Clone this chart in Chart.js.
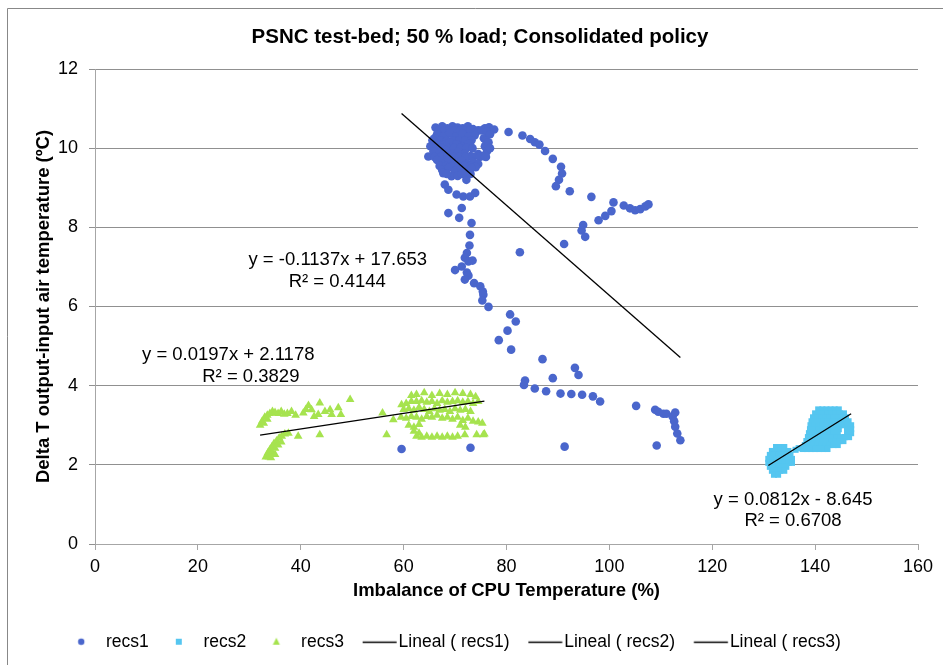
<!DOCTYPE html>
<html>
<head>
<meta charset="utf-8">
<script src="https://cdn.jsdelivr.net/npm/chart.js@4.4.0/dist/chart.umd.min.js"></script>
<style>
  html, body { margin: 0; padding: 0; background: #fff; }
</style>
</head>
<body>
<canvas id="myChart" width="943" height="665"></canvas>
<script>
// recs1: [imbalance %, delta T]
const recs1 = [
  [66.2,10.52],[67.5,10.55],[68.5,10.50],[69.5,10.55],[70.5,10.52],[71.5,10.50],[72.5,10.55],[73.5,10.48],[74.5,10.45],[75.8,10.50],[76.6,10.53],[77.6,10.47],
  [66.9,10.45],[68.0,10.45],[69.0,10.45],[70.0,10.45],[71.0,10.45],[72.0,10.45],[73.0,10.45],[74.0,10.40],[75.2,10.45],[76.2,10.42],
  [66.5,10.35],[67.8,10.30],[69.0,10.38],[70.2,10.30],[71.4,10.36],[72.6,10.28],[73.8,10.32],[75.6,10.25],[66.0,10.25],[76.8,10.35],
  [65.6,10.20],[67.2,10.20],[68.4,10.20],[69.6,10.20],[70.8,10.20],[72.0,10.20],[73.2,10.20],[76.0,10.20],
  [65.2,10.05],[66.6,10.12],[67.8,10.08],[69.0,10.15],[70.3,10.10],[71.5,10.05],[72.7,10.12],[75.8,10.05],[76.5,10.15],[76.2,9.92],
  [66.1,10.00],[67.4,10.00],[68.6,10.00],[69.8,10.00],[71.0,10.00],[72.2,10.00],[73.4,10.00],[76.8,10.00],
  [64.8,9.79],[65.8,9.92],[67.0,9.88],[68.2,9.95],[69.4,9.85],[70.6,9.90],[71.8,9.85],[73.0,9.80],[74.5,9.85],[75.5,9.80],
  [66.0,9.78],[67.3,9.78],[68.5,9.78],[69.7,9.78],[70.9,9.78],[72.1,9.78],[73.5,9.78],[74.8,9.78],[76.0,9.78],
  [66.5,9.70],[67.6,9.62],[68.8,9.70],[70.0,9.60],[71.2,9.68],[72.4,9.60],[73.5,9.65],[74.5,9.60],
  [67.0,9.55],[68.2,9.55],[69.4,9.55],[70.6,9.55],[71.8,9.55],[73.0,9.55],[74.0,9.52],
  [67.5,9.45],[68.7,9.50],[70.0,9.42],[71.2,9.48],[72.3,9.40],[73.2,9.50],
  [67.7,9.37],[69.3,9.29],[70.5,9.30],[72.2,9.20],[68.4,9.35],[71.3,9.35],[73.0,9.35],
  [80.4,10.41],[83.1,10.32],[84.6,10.23],[85.5,10.15],[86.4,10.09],[87.5,9.93],[89.0,9.73],[90.6,9.53],[90.8,9.36],[90.2,9.20],
  [89.6,9.04],[92.3,8.91],[96.5,8.77],[100.8,8.63],[102.8,8.55],[104.0,8.48],[105.0,8.43],[106.0,8.46],[107.0,8.53],[107.6,8.58],
  [100.4,8.41],[99.2,8.29],[97.9,8.18],[94.9,8.06],[94.6,7.92],[95.3,7.76],[91.2,7.58],[82.6,7.37],
  [68.0,9.08],[68.7,8.95],[70.3,8.83],[71.6,8.78],[72.9,8.78],[73.9,8.87],[71.3,8.49],[68.7,8.36],[70.8,8.24],[73.2,8.11],
  [72.9,7.81],[72.8,7.54],[72.3,7.35],[71.9,7.23],[72.6,7.14],[73.4,7.16],[71.3,7.01],[70.0,6.92],[72.3,6.86],[72.6,6.78],
  [71.9,6.68],[73.7,6.59],[74.9,6.51],[75.4,6.38],[75.5,6.30],[75.3,6.15],[76.5,5.99],
  [80.7,5.80],[81.8,5.62],[80.2,5.39],[78.5,5.15],[80.9,4.91],[87.0,4.67],[93.3,4.45],[94.0,4.27],[89.0,4.19],[83.6,4.13],
  [83.4,4.02],[85.5,3.93],[87.7,3.86],[90.5,3.80],[92.6,3.79],[94.7,3.77],[96.8,3.73],[98.2,3.60],[105.2,3.49],[108.9,3.39],
  [109.5,3.34],[110.5,3.29],[111.1,3.29],[112.3,3.22],[112.8,3.32],[112.6,3.10],[112.8,2.96],[113.2,2.79],[113.8,2.62],
  [109.2,2.49],[91.3,2.46],[73.0,2.43],[59.6,2.40]
];

const recs2 = [
  [132.4,2.45],[133.2,2.45],[134.0,2.45],
  [131.6,2.35],[132.4,2.35],[133.2,2.35],[134.0,2.35],[134.8,2.35],
  [131.2,2.25],[132.0,2.25],[132.8,2.25],[133.6,2.25],[134.4,2.25],[135.2,2.25],
  [130.9,2.15],[131.7,2.15],[132.5,2.15],[133.3,2.15],[134.1,2.15],[134.9,2.15],[135.5,2.15],
  [130.9,2.05],[131.7,2.05],[132.5,2.05],[133.3,2.05],[134.1,2.05],[134.9,2.05],[135.5,2.05],
  [131.2,1.95],[132.0,1.95],[132.8,1.95],[133.6,1.95],[134.4,1.95],
  [131.6,1.85],[132.4,1.85],[133.2,1.85],[134.0,1.85],
  [132.0,1.75],[132.8,1.75],
  [136.2,2.38],[136.8,2.42],
  [140.6,3.40],[141.4,3.40],[142.2,3.40],[143.0,3.40],[143.8,3.40],[144.6,3.40],
  [140.0,3.30],[140.8,3.30],[141.6,3.30],[142.4,3.30],[143.2,3.30],[144.0,3.30],[144.8,3.30],[145.6,3.30],
  [139.6,3.20],[140.4,3.20],[141.2,3.20],[142.0,3.20],[142.8,3.20],[143.6,3.20],[144.4,3.20],[145.2,3.20],[146.0,3.20],
  [139.3,3.10],[140.1,3.10],[140.9,3.10],[141.7,3.10],[142.5,3.10],[143.3,3.10],[144.1,3.10],[144.9,3.10],[145.7,3.10],[146.5,3.10],
  [139.1,3.00],[139.9,3.00],[140.7,3.00],[141.5,3.00],[142.3,3.00],[143.1,3.00],[143.9,3.00],[144.7,3.00],[145.5,3.00],[146.3,3.00],[147.0,3.00],
  [139.0,2.90],[139.8,2.90],[140.6,2.90],[141.4,2.90],[142.2,2.90],[143.0,2.90],[143.8,2.90],[144.6,2.90],[146.2,2.90],[147.0,2.90],
  [138.8,2.80],[139.6,2.80],[140.4,2.80],[141.2,2.80],[142.0,2.80],[142.8,2.80],[143.6,2.80],[144.4,2.80],[146.2,2.80],[147.0,2.80],
  [138.6,2.70],[139.4,2.70],[140.2,2.70],[141.0,2.70],[141.8,2.70],[142.6,2.70],[143.4,2.70],[144.2,2.70],[145.0,2.70],[145.8,2.70],[146.6,2.70],
  [138.3,2.60],[139.1,2.60],[139.9,2.60],[140.7,2.60],[141.5,2.60],[142.3,2.60],[143.1,2.60],[143.9,2.60],[144.7,2.60],[145.5,2.60],
  [138.0,2.50],[138.8,2.50],[139.6,2.50],[140.4,2.50],[141.2,2.50],[142.0,2.50],[142.8,2.50],[143.6,2.50],[144.4,2.50],
  [137.6,2.40],[138.4,2.40],[139.2,2.40],[140.0,2.40],[140.8,2.40],[141.6,2.40],[142.4,2.40]
];

const recs3 = [
  [33.2,2.20],[33.6,2.30],[34.0,2.38],[34.4,2.46],[34.8,2.54],[35.3,2.60],[35.8,2.68],[36.3,2.72],[36.9,2.78],[37.6,2.80],
  [33.8,2.20],[34.5,2.30],[35.0,2.42],[35.6,2.50],[36.2,2.58],[34.2,2.18],[35.0,2.26],
  [32.1,3.00],[32.5,3.10],[33.0,3.20],[33.5,3.25],[34.0,3.30],[34.5,3.35],[35.0,3.32],[35.6,3.30],[36.2,3.35],[36.8,3.28],
  [37.4,3.30],[38.2,3.35],[32.8,3.05],[33.5,3.15],
  [39.5,2.72],[40.5,3.31],[41.0,3.40],[42.1,3.39],[43.4,3.27],[43.7,3.56],[43.7,2.76],[44.7,3.35],[45.7,3.39],[46.0,3.27],
  [47.3,3.44],[47.8,3.27],[49.6,3.65],[39.0,3.25],[41.5,3.50],[42.6,3.22],
  [55.9,3.31],[56.7,2.76],[58.0,3.14],[59.6,3.52],[61.5,3.75],
  [62.5,3.78],[64.0,3.82],[65.5,3.75],[67.0,3.80],[68.5,3.78],[70.0,3.82],[71.5,3.80],[73.0,3.78],[74.0,3.72],
  [60.5,3.55],[61.5,3.60],[62.5,3.60],[63.5,3.62],[64.5,3.58],[65.5,3.60],[66.5,3.55],[67.5,3.62],[68.5,3.58],[69.5,3.60],
  [70.5,3.62],[71.5,3.58],[72.5,3.60],[73.5,3.55],[74.5,3.60],
  [60.0,3.40],[61.0,3.42],[62.0,3.38],[63.0,3.45],[64.0,3.40],[65.0,3.35],[66.0,3.42],[67.0,3.38],[68.0,3.40],[69.0,3.35],
  [70.0,3.42],[71.0,3.38],[72.0,3.40],[73.0,3.35],
  [59.5,3.20],[60.5,3.18],[61.5,3.22],[62.5,3.20],[63.5,3.15],[64.5,3.22],[65.5,3.20],[66.5,3.25],[67.5,3.18],[68.5,3.20],
  [69.5,3.15],[70.5,3.20],[71.5,3.12],[72.5,3.18],[73.5,3.10],[74.5,3.08],[75.3,3.05],
  [61.0,3.00],[62.0,2.95],[63.0,3.02],[71.0,3.00],[72.0,2.95],[62.0,2.85],[63.0,2.80],
  [62.5,2.72],[63.5,2.70],[64.5,2.72],[65.5,2.70],[66.5,2.72],[67.5,2.70],[68.5,2.72],[69.5,2.70],[70.5,2.72],[71.9,2.76],
  [74.2,2.76],[75.5,2.76],[75.7,2.78]
];

// linear trendlines (as printed on the chart)
const trendSlope = [-0.1137, 0.0812, 0.0197];
const trendIntercept = [17.653, -8.645, 2.1178];
const trendText = ['y = -0.1137x + 17.653', 'y = 0.0812x - 8.645', 'y = 0.0197x + 2.1178'];
const r2Text = ['R² = 0.4144', 'R² = 0.6708', 'R² = 0.3829'];

const xTicks = [0, 20, 40, 60, 80, 100, 120, 140, 160];
const yTicks = [0, 2, 4, 6, 8, 10, 12];

// where the equation labels sit, in axis units
const eqPos = [
  [[47.2, 7.18], [47.1, 6.63]],
  [[135.7, 1.12], [135.7, 0.59]],
  [[25.9, 4.78], [30.3, 4.23]]
];

const blue = '#4a66cc';
const cyan = '#55c6f0';
const green = '#a6e34f';
const FONT = '"Liberation Sans", Arial, sans-serif';
Chart.defaults.font.family = FONT;
Chart.defaults.color = '#000';

function toPts(arr) {
  return arr.map(p => ({x: p[0], y: p[1]}));
}

function trendPts(i, arr) {
  const xs = arr.map(p => p[0]);
  const lo = Math.min(...xs), hi = Math.max(...xs);
  return [lo, hi].map(x => ({x: x, y: trendSlope[i] * x + trendIntercept[i]}));
}

// legend markers drawn into small canvases (box is 20px wide)
function marker(kind, color) {
  const c = document.createElement('canvas');
  c.width = kind === 'line' ? 36 : 20;
  c.height = 16;
  const g = c.getContext('2d');
  g.fillStyle = color;
  g.strokeStyle = color;
  if (kind === 'circle') {
    g.beginPath(); g.arc(4, 8, 3.2, 0, Math.PI * 2); g.fill();
  } else if (kind === 'rect') {
    g.fillRect(1, 5, 6, 6);
  } else if (kind === 'triangle') {
    g.beginPath(); g.moveTo(4, 4); g.lineTo(7.5, 11); g.lineTo(0.5, 11); g.closePath(); g.fill();
  } else {
    g.lineWidth = 1.3;
    g.beginPath(); g.moveTo(0.75, 8.5); g.lineTo(34.75, 8.5); g.stroke();
  }
  return c;
}

const legendMarks = [
  marker('circle', blue), marker('rect', cyan), marker('triangle', green),
  marker('line', '#000'), marker('line', '#000'), marker('line', '#000')
];

const framePlugin = {
  id: 'frame',
  beforeDraw(chart) {
    const c = chart.ctx;
    c.save();
    c.fillStyle = '#fff';
    c.fillRect(0, 0, chart.width, chart.height);
    c.strokeStyle = '#888';
    c.lineWidth = 1;
    c.beginPath();
    c.moveTo(7.5, chart.height);
    c.lineTo(7.5, 8.5);
    c.lineTo(chart.width, 8.5);
    c.stroke();
    c.restore();
  },
  afterLayout(chart) {
    // the original chart object is wider than the picture, so its title sits right of centre
    if (chart.titleBlock) {
      chart.titleBlock.left += 21;
      chart.titleBlock.right += 21;
    }
  }
};

const equationPlugin = {
  id: 'equations',
  afterDatasetsDraw(chart) {
    const xs = chart.scales.x, ys = chart.scales.y, c = chart.ctx;
    c.save();
    c.font = '18.5px ' + FONT;
    c.fillStyle = '#000';
    c.textAlign = 'center';
    c.textBaseline = 'middle';
    eqPos.forEach((pos, i) => {
      c.fillText(trendText[i], xs.getPixelForValue(pos[0][0]), ys.getPixelForValue(pos[0][1]));
      c.fillText(r2Text[i], xs.getPixelForValue(pos[1][0]), ys.getPixelForValue(pos[1][1]));
    });
    c.restore();
  }
};

const ctx = document.getElementById('myChart').getContext('2d');

const trendStyle = {
  borderColor: '#000',
  backgroundColor: '#000',
  borderWidth: 1.3,
  pointRadius: 0,
  showLine: true,
  fill: false,
  order: 0
};

new Chart(ctx, {
  type: 'scatter',
  data: {
    datasets: [
      { label: 'recs1', data: toPts(recs1), pointStyle: 'circle', pointRadius: 4.3, backgroundColor: blue, borderColor: blue, borderWidth: 0, order: 3 },
      { label: 'recs2', data: toPts(recs2), pointStyle: 'rect', pointRadius: 4.3, backgroundColor: cyan, borderColor: cyan, borderWidth: 0, order: 2 },
      { label: 'recs3', data: toPts(recs3), pointStyle: 'triangle', pointRadius: 5, backgroundColor: green, borderColor: green, borderWidth: 0, order: 1 },
      Object.assign({ label: 'Lineal ( recs1)', data: trendPts(0, recs1) }, trendStyle),
      Object.assign({ label: 'Lineal ( recs2)', data: trendPts(1, recs2) }, trendStyle),
      Object.assign({ label: 'Lineal ( recs3)', data: trendPts(2, recs3) }, trendStyle)
    ]
  },
  options: {
    responsive: false,
    animation: false,
    layout: { padding: { left: 0, right: 25, top: 0, bottom: 4.5 } },
    plugins: {
      title: {
        display: true,
        text: 'PSNC test-bed; 50 % load; Consolidated policy',
        font: { size: 20.5, weight: 'bold' },
        color: '#000',
        padding: { top: 25, bottom: 19.4 }
      },
      legend: {
        position: 'bottom',
        labels: {
          usePointStyle: true,
          pointStyleWidth: 20,
          boxHeight: 8,
          padding: 26,
          font: { size: 17.5 },
          color: '#000',
          generateLabels(chart) {
            return chart.data.datasets.map((ds, i) => ({
              text: ds.label,
              pointStyle: legendMarks[i],
              fillStyle: '#000',
              strokeStyle: '#000',
              lineWidth: 0,
              hidden: false,
              fontColor: '#000',
              datasetIndex: i
            }));
          }
        }
      },
      tooltip: { enabled: false }
    },
    scales: {
      x: {
        type: 'linear',
        min: 0,
        max: 160,
        afterBuildTicks(s) { s.ticks = xTicks.map(v => ({value: v})); },
        afterFit(s) { s.height = 63; },
        ticks: { font: { size: 18 }, padding: 6, color: '#000' },
        grid: { drawOnChartArea: false, color: '#a6a6a6', tickLength: 6 },
        border: { color: '#a6a6a6' },
        title: {
          display: true,
          text: 'Imbalance of CPU Temperature (%)',
          font: { size: 18.5, weight: 'bold' },
          color: '#000',
          padding: { top: 0, bottom: 4.9 }
        }
      },
      y: {
        type: 'linear',
        min: 0,
        max: 12,
        afterBuildTicks(s) { s.ticks = yTicks.map(v => ({value: v})); },
        afterFit(s) { s.width = 95; },
        ticks: { font: { size: 18 }, padding: 11, color: '#000' },
        grid: { color: '#909090', tickLength: 6 },
        border: { color: '#a6a6a6' },
        title: {
          display: true,
          text: 'Delta T output-input air temperature (ºC)',
          font: { size: 18.5, weight: 'bold' },
          color: '#000',
          padding: { top: 33, bottom: 0 }
        }
      }
    }
  },
  plugins: [framePlugin, equationPlugin]
});
</script>
</body>
</html>
